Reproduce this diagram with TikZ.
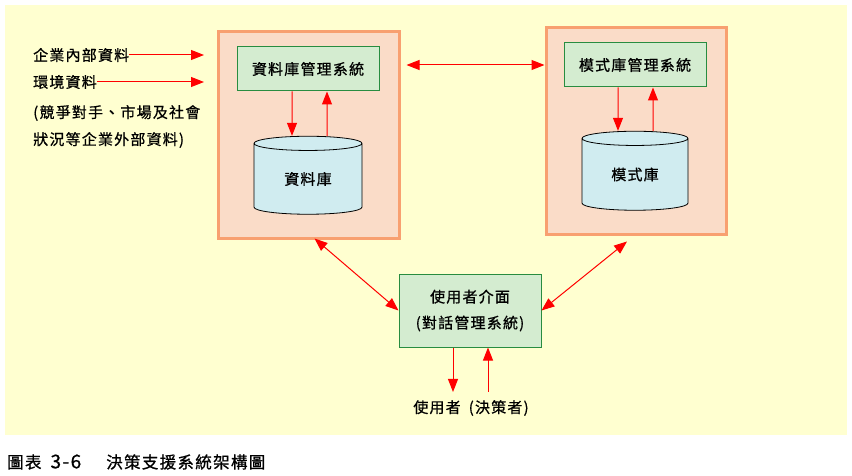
\documentclass[tikz,border=0pt]{standalone}
\usepackage{fontspec}
\newfontfamily\tcfont[LetterSpace=8,FakeBold=0.8]{Noto Sans CJK TC}
\usetikzlibrary{arrows.meta,shapes.geometric,calc}

\definecolor{bgyellow}{RGB}{255,255,208}
\definecolor{peach}{RGB}{250,220,200}
\definecolor{peachline}{RGB}{248,160,112}
\definecolor{mint}{RGB}{212,236,208}
\definecolor{mintline}{RGB}{40,140,64}
\definecolor{icy}{RGB}{208,236,240}

\begin{document}
\begin{tikzpicture}[x=1pt,y=-1pt,
	font=\tcfont\fontsize{15}{16}\selectfont,
	arr/.style={red, line width=1pt, -{Triangle[length=13pt,width=10pt]}},
	dbl/.style={red, line width=1pt, {Triangle[length=13pt,width=10pt]}-{Triangle[length=13pt,width=10pt]}},
	outerbox/.style={draw=peachline, fill=peach, line width=3pt, inner sep=0pt},
	sysbox/.style={draw=mintline, fill=mint, line width=1pt, inner sep=0pt, minimum width=142pt},
	store/.style={cylinder, shape border rotate=90, aspect=0.3, draw, fill=icy, line width=0.8pt, inner sep=0pt}]
	\useasboundingbox (0,0) rectangle (852,476);
	\fill[bgyellow] (5,5) rectangle (847,435);
	
	% two subsystems
	\node[outerbox, minimum width=181pt, minimum height=206pt] (dbbox) at (308.5,135) {};
	\node[outerbox, minimum width=180pt, minimum height=206pt] (mbbox) at (636,131) {};
	\node[sysbox, minimum height=44pt] (dbms) at (308,69) {資料庫管理系統};
	\node[sysbox, minimum height=44pt] (mbms) at (635,65) {模式庫管理系統};
	\node[store, minimum width=108pt, minimum height=78pt] (db) at (308,179) {\raisebox{-5pt}{資料庫}};
	\node[store, minimum width=106pt, minimum height=79pt] (mb) at (635,174.5) {\raisebox{-5pt}{模式庫}};
	
	\draw[arr] ($(dbms.south)+(-16,0)$) -- ($(db.north)+(-16,0)$);
	\draw[arr] ($(db.north)+(19,0)$) -- ($(dbms.south)+(19,0)$);
	\draw[arr] ($(mbms.south)+(-17,0)$) -- ($(mb.north)+(-17,0)$);
	\draw[arr] ($(mb.north)+(18,0)$) -- ($(mbms.south)+(18,0)$);
	\draw[dbl] ($(dbbox.east |- mbms.west)+(6,0)$) -- (mbbox.west |- mbms.west);
	
	% inputs
	\node[anchor=west, inner sep=0pt] (inside) at (33,55) {企業內部資料};
	\node[anchor=west, inner sep=0pt] (env) at (33,82) {環境資料};
	\node[anchor=west, inner sep=0pt, align=left, font=\tcfont\fontsize{15}{27}\selectfont] (outside) at (33,126.5) {(競爭對手、市場及社會\\狀況等企業外部資料)};
	\coordinate (insideend) at (204,55);
	\coordinate (envend) at (204,82);
	\draw[arr] (inside.east) -- (insideend);
	\draw[arr] (env.east) -- (envend);
	
	% user interface
	\node[sysbox, minimum height=73pt, align=center, font=\tcfont\fontsize{15}{26}\selectfont] (ui) at (470,310.5) {使用者介面\\(對話管理系統)};
	\draw[dbl] ($(dbbox.south)+(6,-1)$) -- (ui.west);
	\draw[dbl] ($(mbbox.south)+(-9,6)$) -- (ui.east);
	\node[inner sep=0pt] (user) at (471,408) {使用者\hspace{8pt}(決策者)};
	\draw[arr] ($(ui.south)+(-17,0)$) -- ($(user.north)+(-18,-8)$);
	\draw[arr] ($(user.north)+(17,-8)$) -- ($(ui.south)+(18,0)$);
	
	\node[anchor=west, inner sep=0pt, font=\tcfont\fontsize{16.5}{17}\selectfont] (caption) at (7,462) {圖表\hspace{9pt}{\fontsize{19}{19}\selectfont 3-6}\hspace{25pt}決策支援系統架構圖};
\end{tikzpicture}
\end{document}
